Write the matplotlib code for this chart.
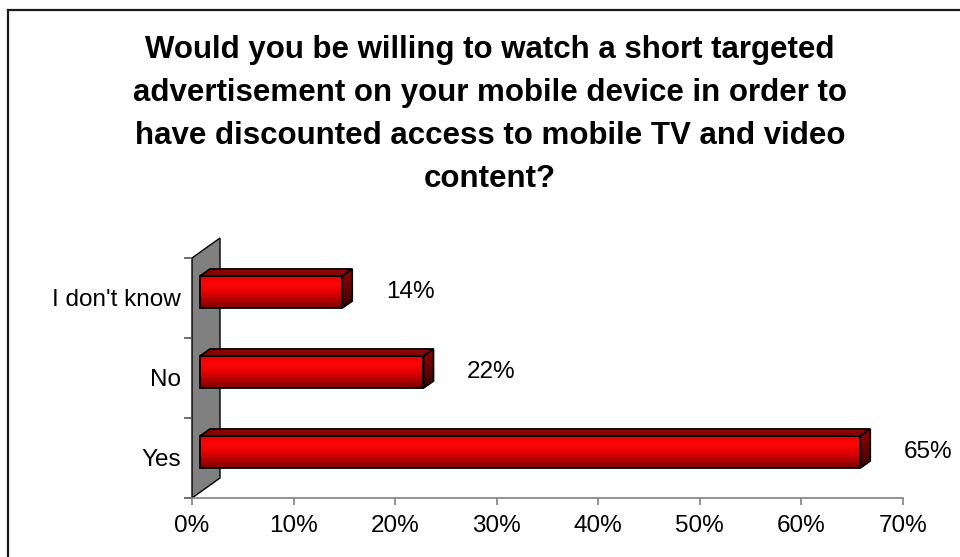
import numpy as np
import matplotlib
matplotlib.use("Agg")
import matplotlib.pyplot as plt
from matplotlib.patches import Polygon, Rectangle
from matplotlib.colors import LinearSegmentedColormap

plt.rcParams['font.family'] = ['Liberation Sans', 'DejaVu Sans']

# ---- data ----
categories = ["Yes", "No", "I don't know"]
values = [65, 22, 14]
x_ticks = [0, 10, 20, 30, 40, 50, 60, 70]
x_ticklabels = [f"{t}%" for t in x_ticks]
title_lines = [
    "Would you be willing to watch a short targeted",
    "advertisement on your mobile device in order to",
    "have discounted access to mobile TV and video",
    "content?",
]

W, H, DPI = 960, 557, 100
fig = plt.figure(figsize=(W / DPI, H / DPI), dpi=DPI)
fig.patch.set_facecolor("white")

# outer chart-area frame (right/bottom run off the canvas)
fig.add_artist(Rectangle((8 / W, -0.2), 1.5, (H - 10) / H + 0.2,
                         transform=fig.transFigure, fill=False,
                         ec="#1a1a1a", lw=1.6))

# title, one line at a time
for i, line in enumerate(title_lines):
    fig.text(490 / W, 1 - (58 + 43 * i) / H, line, ha="center",
             va="baseline", fontsize=22.5, fontweight="bold", color="black")

ax = fig.add_axes([192 / W, (H - 498) / H, (903 - 192) / W, (498 - 258) / H])
ax.set_xlim(0, 70)
ax.set_ylim(-0.5, len(categories) - 0.5)
ax.patch.set_visible(False)
for s in ["top", "right", "left"]:
    ax.spines[s].set_visible(False)
ax.spines["bottom"].set_color("#808080")
ax.spines["bottom"].set_linewidth(1.2)

fig.canvas.draw()
# pixel -> data conversion for the 3-D depth offsets
p0 = ax.transData.transform((0, 0))
px_x = ax.transData.transform((1, 0))[0] - p0[0]
px_y = ax.transData.transform((0, 1))[1] - p0[1]


def dx(px):
    return px / px_x


def dy(px):
    return px / px_y


y0, y1 = ax.get_ylim()

# grey back wall on the category axis
wall_d = (28, 20)
wall = Polygon([(0, y0), (dx(wall_d[0]), y0 + dy(wall_d[1])),
                (dx(wall_d[0]), y1 + dy(wall_d[1])), (0, y1)],
               closed=True, fc="#808080", ec="black", lw=1.0, zorder=1,
               clip_on=False)
ax.add_patch(wall)

front = (8, 6)     # bar front-face shift from the axis plane
depth = (10, 7)    # bar depth
bar_h = 0.4

front_cmap = LinearSegmentedColormap.from_list(
    "front", [(0.0, "#e80000"), (0.25, "#ff0404"), (0.55, "#dd0000"),
              (1.0, "#7a0000")])
top_cmap = LinearSegmentedColormap.from_list("top", ["#7a0000", "#9a0000"])
side_cmap = LinearSegmentedColormap.from_list("side", ["#8a0000", "#3c0000"])

n_strips = 40
for yi, v in enumerate(values):
    fx, fy = dx(front[0]), dy(front[1])
    ddx, ddy = dx(depth[0]), dy(depth[1])
    bot = yi - bar_h / 2 + fy
    top = yi + bar_h / 2 + fy
    # front face with vertical gradient
    hs = (top - bot) / n_strips
    for k in range(n_strips):
        t = 1 - (k + 0.5) / n_strips
        ax.barh(bot + (k + 0.5) * hs, v, height=hs * 1.02, left=fx,
                color=front_cmap(t), lw=0, zorder=3)
    ax.add_patch(Rectangle((fx, bot), v, top - bot, fill=False,
                           ec="black", lw=1.3, zorder=5))
    # top face
    nt = 6
    for k in range(nt):
        a = k / nt
        b = (k + 1) / nt
        c = top_cmap(a)
        ax.add_patch(Polygon([(fx + ddx * a, top + ddy * a),
                              (fx + v + ddx * a, top + ddy * a),
                              (fx + v + ddx * b, top + ddy * b),
                              (fx + ddx * b, top + ddy * b)],
                             closed=True, fc=c, ec=c, lw=0.6,
                             zorder=3, clip_on=False))
    ax.add_patch(Polygon([(fx, top), (fx + v, top), (fx + v + ddx, top + ddy),
                          (fx + ddx, top + ddy)], closed=True, fill=False,
                         ec="black", lw=1.3, zorder=5, clip_on=False))
    # side face
    ns = 8
    for k in range(ns):
        a = k / ns
        b = (k + 1) / ns
        yb = top - (top - bot) * a
        ye = top - (top - bot) * b
        c = side_cmap(a)
        ax.add_patch(Polygon([(fx + v, yb), (fx + v + ddx, yb + ddy),
                              (fx + v + ddx, ye + ddy), (fx + v, ye)],
                             closed=True, fc=c, ec=c, lw=0.6,
                             zorder=3, clip_on=False))
    ax.add_patch(Polygon([(fx + v, top), (fx + v + ddx, top + ddy),
                          (fx + v + ddx, bot + ddy), (fx + v, bot)],
                         closed=True, fill=False, ec="black", lw=1.3,
                         zorder=5, clip_on=False))
    # value label
    ax.annotate(f"{v}%", xy=(v, yi), xytext=(76, 6),
                textcoords="offset pixels", ha="center", va="center",
                fontsize=17.5, color="black", annotation_clip=False)

ax.set_xticks(x_ticks)
ax.set_xticklabels(x_ticklabels, fontsize=17.5)
ax.tick_params(axis="x", direction="out", length=5, width=1.2,
               color="#808080", pad=7)

ax.set_yticks(range(len(categories)))
ax.set_yticklabels(categories, fontsize=17.5)
ax.set_yticks(np.arange(-0.5, len(categories), 1.0), minor=True)
ax.tick_params(axis="y", which="major", length=0, pad=8)
ax.tick_params(axis="y", which="minor", direction="out", length=5.5,
               width=1.2, color="#555555")

fig.savefig("out.png", dpi=DPI)
